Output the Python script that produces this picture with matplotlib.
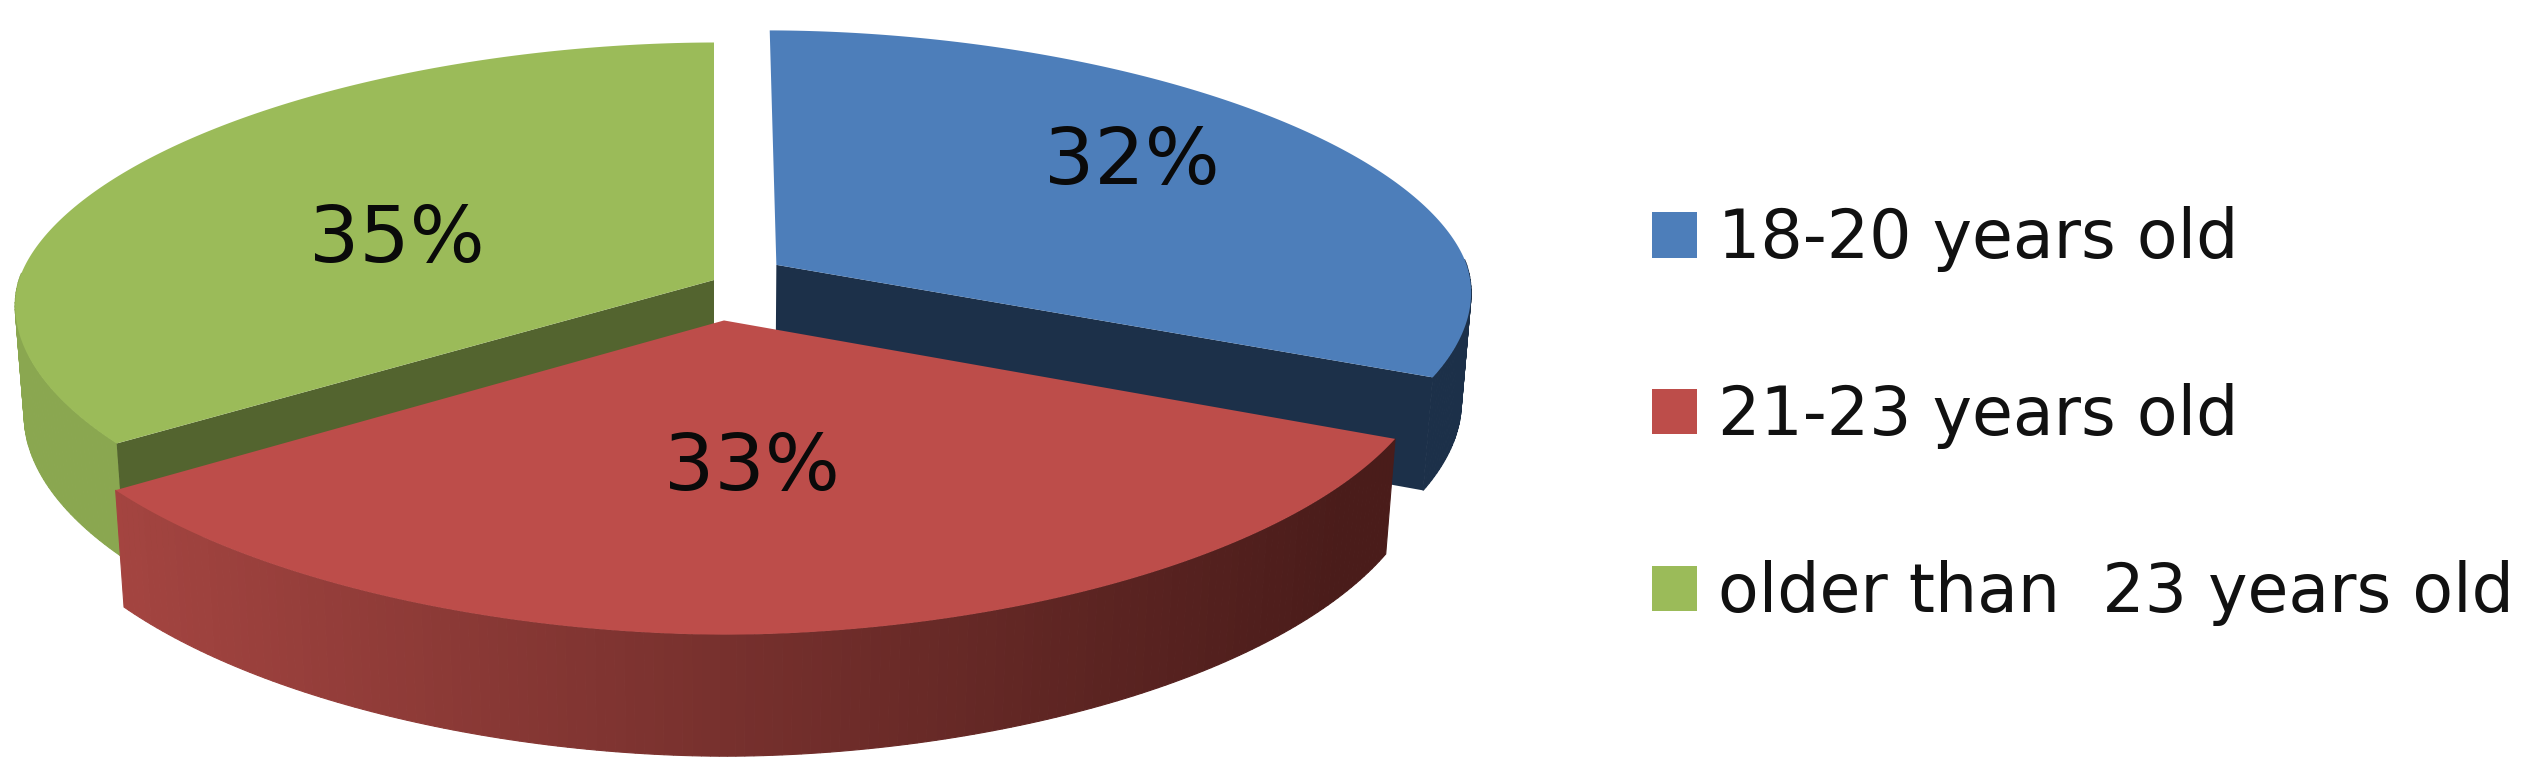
"""
Exploded 3D pie of respondents by age group.
"""
import numpy as np
import matplotlib.pyplot as plt
from matplotlib.colors import LinearSegmentedColormap
from matplotlib.patches import Patch

LABELS = ["18-20 years old", "21-23 years old", "older than  23 years old"]
VALUES = [32, 33, 35]
PCT_LABELS = ["32%", "33%", "35%"]
EXPLODE = [0.107, 0.15, 0.0]

TOP_COLORS = ["#4D7EBA", "#BD4D4A", "#9BBB59"]
CUT_COLORS = ["#1C3049", None, "#53642F"]
WALL_COLORS = [("#1C3049", "#1C3049"), ("#A54541", "#4A1C1A"), ("#8AA750", "#7F9B49")]
# which straight edge of a slice shows its cut face: 1 = closing, 0 = opening
CUT_EDGE = [1, None, 0]
# label nudges from the default spot, pixels
LABEL_NUDGE = [(10, -19), (-18, -37), (54, 32)]

# projection of the pie, in pixels
CX, CY = 714.0, 280.0
RX, RY = 695.0, 266.0
THICK = 111.0
PERSP = 0.12
SHRINK = 0.013
RIM_POWER = 1.05


def project(x, y, depth):
    w = 1 + PERSP * y + SHRINK * depth
    return CX + RX * x / w, CY - RY * y / w + THICK * depth / w


def rim(a):
    s, c = np.sin(a), np.cos(a)
    return np.sign(s) * np.abs(s) ** RIM_POWER, np.sign(c) * np.abs(c) ** RIM_POWER


def draw_slice(ax, i, a0, a1):
    mid = (a0 + a1) / 2
    ox, oy = EXPLODE[i] * np.sin(mid), EXPLODE[i] * np.cos(mid)
    ang = np.linspace(a0, a1, 161)
    rx, ry = rim(ang)
    xs, ys = ox + rx, oy + ry

    # outer wall, strip by strip so the shading can run left to right
    tx, ty = project(xs, ys, 0)
    bx, by = project(xs, ys, 1)
    cmap = LinearSegmentedColormap.from_list("wall", WALL_COLORS[i])
    for j in range(len(ang) - 1):
        if ry[j] > 0.02 and ry[j + 1] > 0.02:  # back of the rim is hidden behind the top
            continue
        t = np.clip((tx[j] - 100) / 1250, 0, 1)
        ax.fill([tx[j], tx[j + 1], bx[j + 1], bx[j]], [ty[j], ty[j + 1], by[j + 1], by[j]],
                color=cmap(t), lw=0.8, zorder=1)

    if CUT_EDGE[i] is not None:
        ex, ey = rim((a0, a1)[CUT_EDGE[i]])
        ex, ey = ox + ex, oy + ey
        p = [project(ox, oy, 0), project(ex, ey, 0), project(ex, ey, 1), project(ox, oy, 1)]
        ax.fill([q[0] for q in p], [q[1] for q in p], color=CUT_COLORS[i], lw=0, zorder=1)

    px, py = project(ox, oy, 0)
    ax.fill(np.r_[px, tx], np.r_[py, ty], color=TOP_COLORS[i], lw=0, zorder=2)

    lx, ly = project(ox + 0.62 * np.sin(mid), oy + 0.62 * np.cos(mid), 0)
    ax.text(lx + LABEL_NUDGE[i][0], ly + LABEL_NUDGE[i][1], PCT_LABELS[i], fontsize=57,
            color="#0A0A0A", ha="center", va="center", zorder=5)


def main() -> None:
    fig = plt.figure(figsize=(25.45, 7.84), dpi=100)
    ax = fig.add_axes([0, 0, 1, 1])
    ax.set_xlim(0, 2545)
    ax.set_ylim(784, 0)
    ax.axis("off")

    fractions = np.array(VALUES) / sum(VALUES)
    edges = np.r_[0, np.cumsum(fractions)] * 2 * np.pi

    # back slices first, the red one sits in front of both
    for i in [2, 0, 1]:
        draw_slice(ax, i, edges[i], edges[i + 1])

    handles = [Patch(facecolor=c, edgecolor="none") for c in TOP_COLORS]
    ax.legend(handles, LABELS, loc="center left", bbox_to_anchor=(1652 / 2545, 1 - 416 / 784),
              frameon=False, fontsize=48, handlelength=0.67, handleheight=0.67,
              handletextpad=0.32, labelspacing=1.66, labelcolor="#111111", borderpad=0, borderaxespad=0)

    fig.savefig("out.png", dpi=100)
    plt.close(fig)


if __name__ == "__main__":
    main()
